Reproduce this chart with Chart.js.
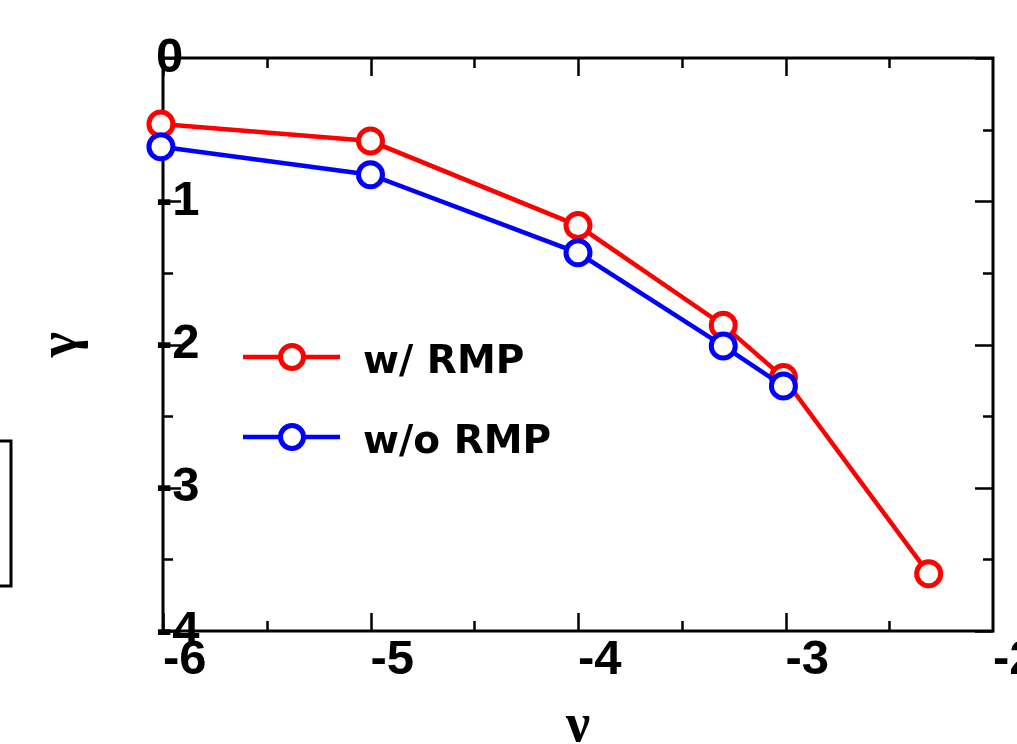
<!DOCTYPE html>
<html>
<head>
<meta charset="utf-8">
<script src="https://cdn.jsdelivr.net/npm/chart.js@4/dist/chart.umd.min.js"></script>
<style>
  html, body { margin: 0; padding: 0; background: #fff; }
  #wrap { width: 1017px; height: 744px; }
</style>
</head>
<body>
<div id="wrap"><canvas id="plot" width="1017" height="744"></canvas></div>
<script>
// nu on x, gamma on y
const nuWith = [-6.01, -5.0, -4.0, -3.30, -3.01, -2.31];
const gammaWith = [-0.46, -0.58, -1.17, -1.865, -2.23, -3.60];
const nuWithout = [-6.01, -5.0, -4.0, -3.30, -3.01];
const gammaWithout = [-0.62, -0.815, -1.36, -2.01, -2.29];

const seriesLabels = ['w/ RMP', 'w/o RMP'];
const seriesColors = ['#ff0000', '#0000ff'];

const toPoints = (xs, ys) => xs.map((x, i) => ({ x, y: ys[i] }));

// box frame + inward ticks on all four sides
const framePlugin = {
  id: 'frame',
  beforeDatasetsDraw(chart) {
    const { ctx, chartArea: a, scales: { x, y } } = chart;
    ctx.save();
    ctx.strokeStyle = '#000';
    ctx.lineWidth = 2.5;
    for (let v = -6; v <= -2.001; v += 0.5) {
      const px = Math.round(x.getPixelForValue(v)) + 0.5;
      const len = Number.isInteger(v) ? 18 : 10;
      ctx.beginPath();
      ctx.moveTo(px, a.bottom); ctx.lineTo(px, a.bottom - len);
      ctx.moveTo(px, a.top); ctx.lineTo(px, a.top + len);
      ctx.stroke();
    }
    for (let v = -4; v <= 0.001; v += 0.5) {
      const py = Math.round(y.getPixelForValue(v)) + 0.5;
      const len = Number.isInteger(v) ? 18 : 10;
      ctx.beginPath();
      ctx.moveTo(a.left, py); ctx.lineTo(a.left + len, py);
      ctx.moveTo(a.right, py); ctx.lineTo(a.right - len, py);
      ctx.stroke();
    }
    ctx.lineWidth = 3;
    ctx.strokeRect(a.left, a.top, a.right - a.left, a.bottom - a.top);
    // edge of the neighbouring panel
    ctx.strokeRect(-10, 441, 21, 145);
    ctx.restore();
  }
};

// legend inside the plot area
const legendPlugin = {
  id: 'innerLegend',
  afterDatasetsDraw(chart) {
    const { ctx, chartArea: a } = chart;
    ctx.save();
    seriesLabels.forEach((label, i) => {
      const yLine = 357 + i * 80;
      const x0 = a.left + 80;
      ctx.strokeStyle = seriesColors[i];
      ctx.lineWidth = 4.5;
      ctx.beginPath();
      ctx.moveTo(x0, yLine); ctx.lineTo(x0 + 97, yLine);
      ctx.stroke();
      ctx.beginPath();
      ctx.arc(x0 + 49, yLine, 11.5, 0, Math.PI * 2);
      ctx.fillStyle = '#fff';
      ctx.fill();
      ctx.lineWidth = 5;
      ctx.stroke();
      ctx.fillStyle = '#000';
      ctx.font = 'bold 39px "DejaVu Sans"';
      ctx.textBaseline = 'alphabetic';
      ctx.fillText(label, x0 + 120, yLine + 16);
    });
    ctx.restore();
  }
};

const lineSet = (label, pts, color, order) => ({
  label,
  data: pts,
  order,
  showLine: true,
  borderColor: color,
  borderWidth: 4.5,
  pointRadius: 12,
  pointBorderWidth: 5,
  pointBackgroundColor: '#fff',
  pointBorderColor: color,
  pointHoverRadius: 12,
  tension: 0,
  clip: false
});

const tickFont = { family: '"Liberation Sans", Arial', weight: 'bold', size: 49 };
const titleFont = { family: '"Liberation Serif", serif', weight: 'bold', size: 54, lineHeight: 1 };

new Chart(document.getElementById('plot'), {
  type: 'scatter',
  data: {
    datasets: [
      lineSet(seriesLabels[0], toPoints(nuWith, gammaWith), seriesColors[0], 1),
      lineSet(seriesLabels[1], toPoints(nuWithout, gammaWithout), seriesColors[1], 0)
    ]
  },
  options: {
    responsive: false,
    animation: false,
    devicePixelRatio: 1,
    layout: { padding: { top: 58, right: 24, left: 0, bottom: 0 } },
    plugins: { legend: { display: false }, tooltip: { enabled: false } },
    scales: {
      x: {
        type: 'linear',
        min: -6, max: -2,
        grid: { display: false, drawTicks: false },
        border: { display: false },
        ticks: { stepSize: 1, align: 'start', padding: 0, maxRotation: 0, color: '#000', font: tickFont },
        title: { display: true, text: 'ν', color: '#000', font: titleFont, padding: { top: 0, bottom: -10 } },
        afterFit(s) { s.height = 113; s.paddingLeft = 0; s.paddingRight = 0; }
      },
      y: {
        type: 'linear',
        min: -4, max: 0,
        grid: { display: false, drawTicks: false },
        border: { display: false },
        ticks: { stepSize: 1, mirror: true, padding: -7, color: '#000', font: tickFont },
        title: { display: true, text: 'γ', color: '#000', font: titleFont, padding: { top: 35, bottom: 0 } },
        afterFit(s) { s.width = 163; s.paddingTop = 0; s.paddingBottom = 0; }
      }
    }
  },
  plugins: [framePlugin, legendPlugin]
});
</script>
</body>
</html>
